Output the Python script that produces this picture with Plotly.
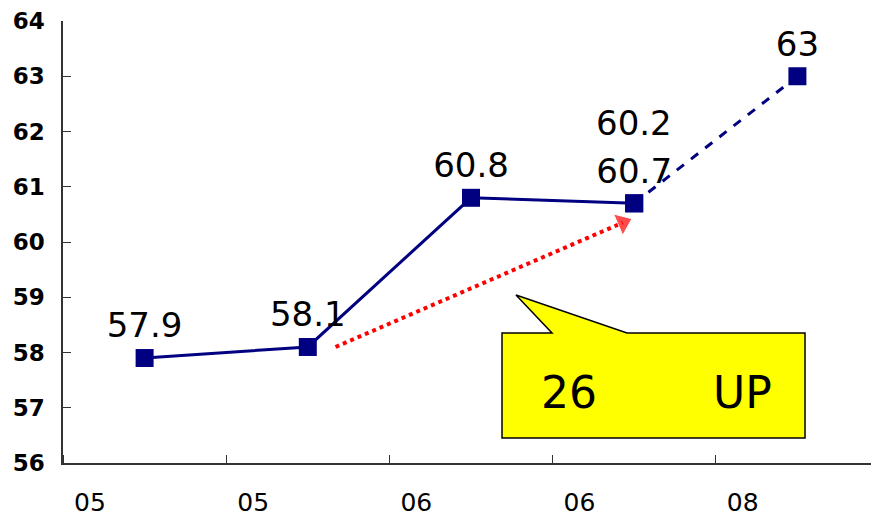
import plotly.graph_objects as go

# ---- data ----
categories = ["05", "05", "06", "06", "08"]
actual_x = [0, 1, 2, 3]
actual_y = [57.9, 58.1, 60.8, 60.7]
forecast_x = [3, 4]
forecast_y = [60.7, 63]
target_label_value = 60.2
trend_x = [1.17, 2.93]
trend_y = [58.1, 60.35]
callout_text = ("26", "UP")
y_ticks = [56, 57, 58, 59, 60, 61, 62, 63, 64]

NAVY = "#000080"
FONT = "DejaVu Sans"

fig = go.Figure()

# forecast dashed segment
fig.add_trace(go.Scatter(
    x=forecast_x, y=forecast_y, mode="lines+markers+text",
    line=dict(color=NAVY, width=3, dash="dash"),
    marker=dict(symbol="square", size=18, color=NAVY),
    text=["", "63"], textposition="top center",
    textfont=dict(family=FONT, size=34, color="black"),
    showlegend=False, cliponaxis=False,
))

# actual line
fig.add_trace(go.Scatter(
    x=actual_x, y=actual_y, mode="lines+markers+text",
    line=dict(color=NAVY, width=3),
    marker=dict(symbol="square", size=18, color=NAVY),
    text=[str(v) for v in actual_y], textposition="top center",
    textfont=dict(family=FONT, size=34, color="black"),
    showlegend=False, cliponaxis=False,
))

# red dotted trend arrow
fig.add_trace(go.Scatter(
    x=trend_x, y=trend_y, mode="lines+markers",
    line=dict(color="red", width=4, dash="dot"),
    marker=dict(symbol=["circle", "triangle-up"], size=[0, 20], color="red",
                angleref="previous"),
    showlegend=False,
))

# extra label 60.2
fig.add_annotation(x=3, y=actual_y[3], yshift=80, text=str(target_label_value),
                   showarrow=False, font=dict(family=FONT, size=34, color="black"))

# yellow callout (speech bubble)
def px2c(px):
    return (px - 63) / 163.2 - 0.5

def py2v(py):
    return 56 + (463 - py) / 55.25

pts = [(502, 333), (552, 333), (516, 295), (627, 333), (805, 333), (805, 438), (502, 438)]
path = "M " + " L ".join(f"{px2c(a):.4f},{py2v(b):.4f}" for a, b in pts) + " Z"
fig.add_shape(type="path", path=path, xref="x", yref="y",
              fillcolor="#FFFF00", line=dict(color="black", width=1.5), layer="above")
fig.add_annotation(x=px2c(569), y=py2v(392), text=callout_text[0], showarrow=False,
                   font=dict(family=FONT, size=44, color="black"))
fig.add_annotation(x=px2c(742), y=py2v(392), text=callout_text[1], showarrow=False,
                   font=dict(family=FONT, size=44, color="black"))

fig.update_layout(
    width=871, height=508,
    margin=dict(l=55, r=0, t=13, b=53),
    plot_bgcolor="white", paper_bgcolor="white",
    xaxis=dict(
        range=[-0.5, 4.5],
        tickmode="array",
        tickvals=[i - 0.335 for i in range(len(categories))],
        ticktext=categories,
        ticks="",
        tickfont=dict(family=FONT, size=25, color="black"),
        showline=True, linecolor="#333333", linewidth=1.5,
        showgrid=False, zeroline=False,
        minor=dict(tickvals=[-0.5, 0.5, 1.5, 2.5, 3.5], ticks="inside",
                   ticklen=8, tickcolor="#333333", showgrid=False),
        ticklabelstandoff=16,
    ),
    yaxis=dict(
        range=[56, 64],
        tickmode="array", tickvals=y_ticks,
        ticks="inside", ticklen=8, tickcolor="#333333",
        tickfont=dict(family=FONT, size=23, color="black", weight="bold"),
        showline=True, linecolor="#333333", linewidth=1.5,
        showgrid=False, zeroline=False,
        ticklabelstandoff=12,
    ),
)

fig.write_html("out.html")
